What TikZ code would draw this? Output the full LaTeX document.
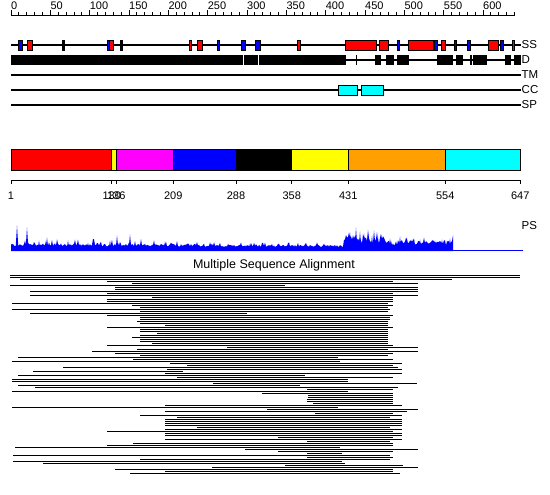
\documentclass[tikz,border=0pt]{standalone}
\usepackage{fontspec}
\setmainfont{Liberation Sans}
\definecolor{ssred}{RGB}{255,0,0}
\definecolor{ssblue}{RGB}{0,0,255}
\definecolor{dmag}{RGB}{255,0,255}
\definecolor{dorange}{RGB}{255,160,0}
\definecolor{dcyan}{RGB}{0,255,255}
\definecolor{dyellow}{RGB}{255,255,0}
\definecolor{psblue}{RGB}{0,0,255}
\begin{document}
\begin{tikzpicture}[x=1pt,y=-1pt,
  lbl/.style={font=\fontsize{11}{12}\selectfont, inner sep=0pt},
  tlbl/.style={font=\fontsize{11.5}{12}\selectfont, inner sep=0pt, anchor=west},
  trk/.style={line width=1.1pt},
  ssbox/.style={draw=black, line width=0.9pt},
  dombox/.style={draw=black, line width=1pt},
  msa/.style={line width=1pt, black}]
\useasboundingbox[fill=white] (0,0) rectangle (550,495);

% ---- top ruler
\draw[line width=0.9pt] (11,15) -- (514.5,15);
\foreach \p in {0,10,...,640} \draw[line width=0.8pt] ({11+0.7867*\p},15) -- ++(0,-2.5);
\foreach \p in {0,50,...,600} {
  \draw[line width=0.8pt] ({11+0.7867*\p},15) -- ++(0,-4.5);
  \node[lbl, anchor=base west] (rul\p) at ({11+0.7867*\p},9.8) {\p};
}

% ---- tracks
\draw[trk] (11,45) -- (521,45);
\draw[trk] (11,60) -- (521,60);
\draw[trk] (11,75) -- (521,75);
\draw[trk] (11,90) -- (521,90);
\draw[trk] (11,105) -- (521,105);

\foreach \a/\b/\c in {18/22/ssblue, 27/32/ssred, 62.5/64/black, 107/109.5/ssblue, 109.5/113/ssred,
  120.5/122/black, 189/191/ssred, 197/202/ssred, 217/219/ssblue, 241/245/ssblue, 255/260/ssblue,
  297.7/300/ssred, 345.7/376.7/ssred, 379/388/ssred, 397/399/ssblue, 408/433/ssred, 434/437/ssblue,
  441/445/ssred, 454/456/ssblue, 467/470/ssblue, 488/498/ssred, 500/503/ssblue, 512/514/ssred}
  \draw[ssbox, fill=\c] (\a,40) rectangle (\b,50);

\fill[black] (11,55) rectangle (345.7,65.5);
\draw[white, line width=1pt] (243.7,55) -- (243.7,65.5);
\draw[white, line width=1pt] (258.3,55) -- (258.3,65.5);
\draw[line width=0.9pt] (356,55) -- (356,65);
\foreach \a/\b in {375/381, 386/393.7, 397/408.7, 436.7/452.7, 456/462.7, 470/472, 472.7/487, 505/510.7, 514/520.7}
  \fill[black] (\a,55) rectangle (\b,65.5);

\draw[ssbox, fill=dcyan] (338,85) rectangle (357,95.5);
\draw[ssbox, fill=dcyan] (361,85) rectangle (383,95.5);

\node[tlbl] (lSS) at (521.5,45) {SS};
\node[tlbl] (lD) at (521.5,60) {D};
\node[tlbl] (lTM) at (521.5,75) {TM};
\node[tlbl] (lCC) at (521.5,90) {CC};
\node[tlbl] (lSP) at (521.5,105) {SP};

% ---- domain bar
\foreach \a/\b/\c in {11/111.7/ssred, 111.7/116.3/dyellow, 116.3/173.3/dmag, 173.3/236/ssblue,
  236/291.7/black, 291.7/348.3/dyellow, 348.3/445.3/dorange, 445.3/520.3/dcyan}
  \draw[dombox, fill=\c] (\a,150) rectangle (\b,170.5);

\draw[line width=0.9pt] (11,180.5) -- (520.3,180.5);
\foreach \x/\t [count=\i] in {11/1, 111.7/130, 116.3/136, 173.3/209, 236/288, 291.7/358, 348.3/431, 445.3/554, 520.3/647} {
  \draw[line width=0.9pt] (\x,180.5) -- (\x,184.5);
  \node[lbl, anchor=base] (dl\i) at (\x,200) {\t};
}

% ---- PS plot
\pgfmathsetseed{7}
\fill[psblue] (11,251) -- plot[domain=11:453, samples=443, variable=\t]
  (\t, {250.5 - ((\t<200) ? (4+2.5*rnd+6*rnd^6) : ((\t<344) ? (3.5+2*rnd+4*rnd^8) : ((\t<385) ? (7+7*rnd+8*rnd^4) : (5+5*rnd+5*rnd^4))))})
  -- (453,251) -- cycle;
\foreach \x/\h in {17/25, 27/23, 39/10, 47/13, 57/8, 68/10, 88/8, 110/10, 117/15, 130/16, 165/9, 172/8, 250/7,
  346/14, 350/18, 356/23, 360/19, 364/17, 368/16, 372/15, 378/13, 390/12, 400/14, 412/11, 420/11, 435/10, 442/11, 450/12}
  \fill[psblue] (\x-1.5,250.5) -- (\x,250.5-\h) -- (\x+1.5,250.5) -- cycle;
\draw[psblue, line width=1pt] (453,250.5) -- (523,250.5);
\node[tlbl] (lPS) at (521.5,226) {PS};

% ---- MSA
\node[font=\fontsize{12.5}{14}\selectfont, inner sep=0pt] (msatitle) at (274,265.5) {Multiple Sequence Alignment};
\foreach \k/\s/\e in {0/10/520, 1/10/520, 2/20/452, 3/107/393, 4/132/418, 5/10/285, 6/115/418, 7/115/418,
  8/30/418, 9/107/393, 10/30/418, 11/152/393, 12/107/393, 13/107/393, 14/12/388, 15/132/393, 16/140/388,
  17/12/390, 18/140/388, 19/30/247, 20/107/393, 21/140/390, 22/140/390, 23/137/388, 24/140/388,
  25/165/388, 26/107/393, 27/140/388, 28/140/388, 29/157/388, 30/140/388, 31/132/388, 32/140/388,
  33/140/388, 34/152/388, 35/107/393, 36/227/418, 37/137/388, 38/92/418, 39/115/393, 40/140/388,
  41/18/338, 42/133/393, 43/12/340, 44/170/402, 45/187/393, 46/63/398, 47/167/402, 48/33/183,
  49/165/402, 50/18/305, 51/177/393, 52/12/348, 53/12/348, 54/213/417, 55/18/300, 56/35/398,
  57/307/393, 58/12/348, 59/262/393, 60/308/393, 61/308/393, 62/307/393, 63/307/393, 64/313/393,
  65/165/402, 66/12/338, 67/267/418, 68/165/407, 69/315/393, 70/140/402, 71/177/390, 72/165/402,
  73/165/402, 74/165/402, 75/165/402, 76/197/390, 77/165/402, 78/107/393, 79/165/402, 80/165/402,
  81/278/393, 82/165/402, 83/307/390, 84/133/393, 85/107/393, 86/15/340, 87/245/418, 88/278/393,
  89/307/342, 90/13/390, 91/307/393, 92/140/390, 93/13/342, 94/43/345, 95/285/403, 96/212/418,
  97/115/393, 98/165/393, 99/130/400}
  \draw[msa] (\s,{275.5+2*\k}) -- (\e,{275.5+2*\k});
\end{tikzpicture}
\end{document}
